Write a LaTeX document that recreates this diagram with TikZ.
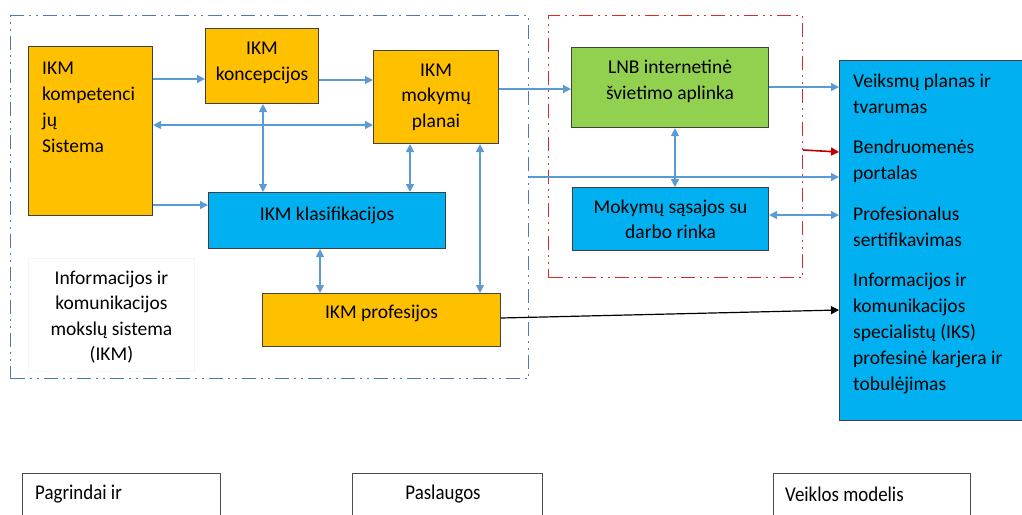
\documentclass[tikz,border=0pt]{standalone}
\usepackage{fontspec}
\setmainfont{Carlito}
\usetikzlibrary{arrows.meta}
\definecolor{ikmorange}{HTML}{FFC000}
\definecolor{ikmblue}{HTML}{00B0F0}
\definecolor{ikmgreen}{HTML}{92D050}
\definecolor{linkblue}{HTML}{5B9BD5}
\definecolor{framblue}{HTML}{4F79B0}
\definecolor{framred}{HTML}{DC2A2A}
\definecolor{arrred}{HTML}{C00000}
\begin{document}
\begin{tikzpicture}[x=1pt,y=-1pt,
  txt/.style={font=\fontsize{19.5}{25.5}\selectfont, inner sep=0pt},
  block/.style={draw=black!75, line width=1.1pt, anchor=north west, inner sep=0pt,
    align=center, txt},
  orangebox/.style={block, fill=ikmorange},
  bluebox/.style={block, fill=ikmblue},
  greenbox/.style={block, fill=ikmgreen},
  frame/.style={line width=1.2pt, anchor=north west, inner sep=0pt,
    dash pattern=on 14pt off 5pt on 2pt off 5pt on 2pt off 5pt},
  arr/.style={draw=linkblue, line width=1.4pt, -{Triangle[length=8pt,width=8pt]}},
  arrboth/.style={draw=linkblue, line width=1.4pt, {Triangle[length=8pt,width=8pt]}-{Triangle[length=8pt,width=8pt]}},
  redarr/.style={draw=arrred, line width=1.6pt, -{Triangle[length=8pt,width=8pt]}},
  blackarr/.style={draw=black, line width=1.2pt, -{Triangle[length=8pt,width=8pt]}},
  legendbox/.style={draw=black!70, line width=0.8pt, anchor=north west, inner sep=0pt},
  legendtxt/.style={font=\fontsize{21}{24}\selectfont, inner sep=0pt}
]
\useasboundingbox (0,0) rectangle (1022,514);

% dash-dot frames
\node[frame, draw=framblue, minimum width=518, minimum height=363] (sysframe) at (10,15) {};
\node[frame, draw=framred, minimum width=254, minimum height=262] (svcframe) at (548,15) {};

% IKM science system blocks
\node[orangebox, minimum width=124, minimum height=169] (kmp) at (28,46) {};
\node[txt, anchor=north west, align=left, font=\fontsize{19.5}{26}\selectfont] (kmptxt) at (42,62) {IKM\\kompetenci\\jų\\Sistema};
\node[orangebox, minimum width=113, minimum height=75, text depth=9.5pt] (kon) at (205,28) {IKM\\koncepcijos};
\node[orangebox, minimum width=125, minimum height=93] (pla) at (373,50) {IKM\\mokymų\\planai};
\node[bluebox, minimum width=237, minimum height=56, text depth=14pt] (kla) at (208,192) {IKM klasifikacijos};
\node[orangebox, minimum width=238, minimum height=53, text depth=17.5pt] (prof) at (262,293) {IKM profesijos};
\node[draw=black!4, line width=0.8pt, anchor=north west, minimum width=166, minimum height=113] (sysbox) at (28,258) {};
\node[txt, align=center, yshift=-2pt] (systxt) at (sysbox.center) {Informacijos ir\\komunikacijos\\mokslų sistema\\(IKM)};

% services
\node[greenbox, minimum width=197, minimum height=80, text depth=15.5pt] (lnb) at (571,47) {LNB internetinė\\švietimo aplinka};
\node[bluebox, minimum width=196, minimum height=63] (mok) at (572,187) {Mokymų sąsajos su\\darbo rinka};

% operating model
\node[bluebox, minimum width=200, minimum height=360] (big) at (839,60) {};
\node[txt, anchor=north west, align=left, font=\fontsize{19.5}{26}\selectfont] (bigtxt) at (853,74)
  {Veiksmų planas ir\\tvarumas\\[14pt]Bendruomenės\\portalas\\[15pt]Profesionalus\\sertifikavimas\\[14pt]Informacijos ir\\komunikacijos\\specialistų (IKS)\\profesinė karjera ir\\tobulėjimas};

% connectors
\draw[arr] (kmp.east |- 0,79) -- (kon.west |- 0,79);
\draw[arr] (kon.east |- 0,80) -- (pla.west |- 0,80);
\draw[arrboth] (kmp.east |- 0,125) -- (pla.west |- 0,125);
\draw[arr] (kmp.east |- 0,205) -- (kla.west |- 0,205);
\draw[arrboth] (kon.south -| 263,0) -- (kla.north -| 263,0);
\draw[arrboth] (pla.south -| 410,0) -- (kla.north -| 410,0);
\draw[arrboth] (kla.south -| 320,0) -- (prof.north -| 320,0);
\draw[arrboth] (pla.south -| 480,0) -- (prof.north -| 480,0);
\draw[arr] (pla.east |- 0,89) -- (lnb.west |- 0,89);
\draw[arr] (lnb.east |- 0,87) -- (big.west |- 0,87);
\draw[redarr] (svcframe.east |- 0,150) -- (big.west |- 0,152);
\draw[arr] (sysframe.east |- 0,177) -- (big.west |- 0,177);
\draw[arrboth] (lnb.south -| 675,0) -- (mok.north -| 675,0);
\draw[arrboth] (mok.east |- 0,215) -- (big.west |- 0,215);
\draw[blackarr] (prof.east |- 0,318) -- (big.west |- 0,310);

% legend boxes along the bottom
\node[legendbox, minimum width=198, minimum height=60] (lgA) at (22,473) {};
\node[legendtxt, anchor=west] (lgAtxt) at (35,494) {\scalebox{0.9}[1]{Pagrindai ir}};
\node[legendbox, minimum width=190, minimum height=60] (lgB) at (352,473) {};
\node[legendtxt] (lgBtxt) at (443,494) {\scalebox{0.9}[1]{Paslaugos}};
\node[legendbox, minimum width=197, minimum height=60] (lgC) at (773,473) {};
\node[legendtxt, anchor=west] (lgCtxt) at (785,494) {\scalebox{0.9}[1]{Veiklos modelis}};
\end{tikzpicture}
\end{document}
